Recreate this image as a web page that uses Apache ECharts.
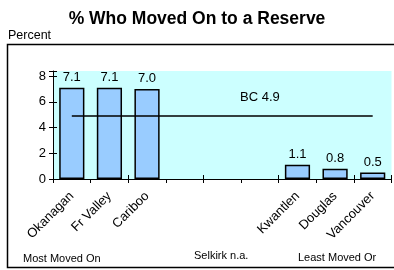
<!DOCTYPE html>
<html>
<head>
<meta charset="utf-8">
<script src="https://cdn.jsdelivr.net/npm/echarts@6/dist/echarts.min.js"></script>
<style>
  html, body { margin: 0; padding: 0; background: #fff; }
  #chart { width: 394px; height: 270px; }
</style>
</head>
<body>
<div id="chart"></div>
<script>
// regions, ordered from most to least moved on (gaps are unlabelled slots)
const categories = ['Okanagan', 'Fr Valley', 'Cariboo', '', '', '', 'Kwantlen', 'Douglas', 'Vancouver'];
const movedPercent = [7.1, 7.1, 7.0, null, null, null, 1.1, 0.8, 0.5];
const bcAverage = 4.9;
const bcLabelIndex = 5;
const yTickValues = [0, 2, 4, 6, 8];

const font = 'Arial, "Liberation Sans", sans-serif';

const chart = echarts.init(document.getElementById('chart'));

const option = {
    animation: false,
    textStyle: { fontFamily: font },
    title: {
        text: '% Who Moved On to a Reserve',
        left: 'center',
        top: 5,
        textStyle: { fontSize: 17.5, fontWeight: 'bold', color: '#000', fontFamily: font }
    },
    graphic: [
        {
            type: 'rect',
            shape: { x: 7.5, y: 44.5, width: 400, height: 223 },
            style: { fill: null, stroke: '#000', lineWidth: 1.5 },
            z: -1
        },
        { type: 'text', left: 8, top: 29, style: { text: 'Percent', fontSize: 12.5, fill: '#000', fontFamily: font } },
        { type: 'text', left: 23, top: 253, style: { text: 'Most Moved On', fontSize: 11, fill: '#000', fontFamily: font } },
        { type: 'text', left: 194, top: 250, style: { text: 'Selkirk n.a.', fontSize: 11, fill: '#000', fontFamily: font } },
        { type: 'text', left: 298, top: 252, style: { text: 'Least Moved Or', fontSize: 11, fill: '#000', fontFamily: font } }
    ],
    grid: {
        left: 53,
        right: 2.5,
        top: 71,
        bottom: 91,
        show: true,
        backgroundColor: '#ccffff',
        borderWidth: 0
    },
    xAxis: [
        {
            type: 'category',
            data: categories,
            axisLine: { lineStyle: { color: '#000', width: 1 } },
            axisTick: { show: true, length: 4, lineStyle: { color: '#000' } },
            axisLabel: { rotate: 45, fontSize: 13, color: '#000', margin: 15, interval: 0 }
        },
        {
            type: 'category',
            data: categories,
            position: 'bottom',
            axisLine: { show: false },
            axisTick: { show: true, inside: true, length: 4, lineStyle: { color: '#000' } },
            axisLabel: { show: false }
        }
    ],
    yAxis: [
        {
            type: 'value',
            min: 0,
            max: 8.4,
            interval: 2,
            splitLine: { show: false },
            axisLine: { show: true, lineStyle: { color: '#000' } },
            axisTick: { show: true, length: 4, lineStyle: { color: '#000' } },
            axisLabel: {
                fontSize: 13,
                color: '#000',
                margin: 7,
                formatter: function (v) { return yTickValues.indexOf(v) >= 0 ? String(v) : ''; }
            }
        },
        {
            type: 'value',
            position: 'left',
            min: 0,
            max: 8.4,
            interval: 2,
            splitLine: { show: false },
            axisLine: { show: false },
            axisTick: { show: true, inside: true, length: 4, lineStyle: { color: '#000' } },
            axisLabel: { show: false }
        }
    ],
    series: [
        {
            type: 'bar',
            data: movedPercent,
            barCategoryGap: '33%',
            itemStyle: { color: '#99ccff', borderColor: '#000', borderWidth: 1.5 },
            label: {
                show: true,
                position: 'top',
                distance: 4,
                color: '#000',
                fontSize: 13,
                fontFamily: font,
                formatter: function (p) { return p.value == null ? '' : p.value.toFixed(1); }
            }
        },
        {
            type: 'line',
            data: categories.map(function () { return bcAverage; }),
            symbol: 'circle',
            symbolSize: 0,
            showSymbol: true,
            lineStyle: { color: '#000', width: 1.5 },
            z: 5,
            label: {
                show: true,
                position: 'top',
                distance: 12,
                color: '#000',
                fontSize: 13,
                fontFamily: font,
                formatter: function (p) {
                    return p.dataIndex === bcLabelIndex ? 'BC ' + bcAverage.toFixed(1) : '';
                }
            }
        }
    ]
};

chart.setOption(option);

window.addEventListener('resize', function () {
    chart.resize();
});
</script>
</body>
</html>
